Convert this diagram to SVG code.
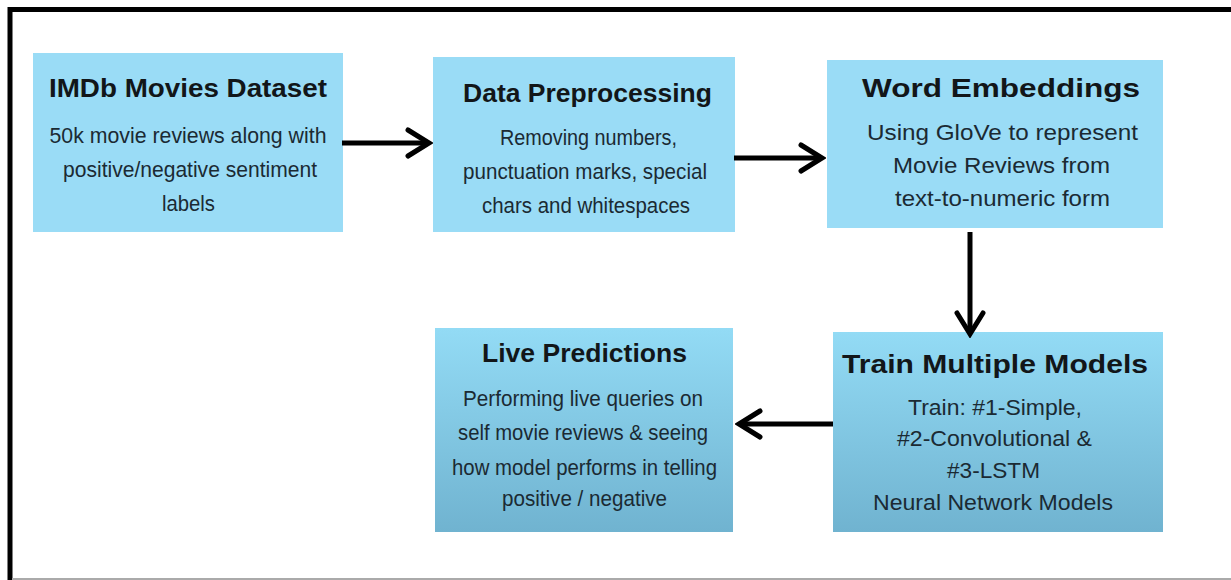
<svg xmlns="http://www.w3.org/2000/svg" width="1231" height="580" viewBox="0 0 1231 580">
<style>
.box{fill:#9adcf6;}
.boxg{fill:url(#grad);}
.title{font-family:"Liberation Sans",Arial,sans-serif;font-weight:bold;font-size:26px;fill:#121619;text-anchor:middle;}
.body{font-family:"Liberation Sans",Arial,sans-serif;font-size:22px;fill:#1b2a33;text-anchor:middle;}
.conn{stroke:#000;stroke-width:5;fill:none;}
</style>
<defs>
<linearGradient id="grad" x1="0" y1="0" x2="0" y2="1">
<stop offset="0" stop-color="#93dbf5"/>
<stop offset="1" stop-color="#70b3d0"/>
</linearGradient>
<marker id="head" viewBox="-26 -16 30 32" markerWidth="30" markerHeight="32" refX="0" refY="0" orient="auto" markerUnits="userSpaceOnUse">
<path d="M-21,-13 L0,0 L-21,13" fill="none" stroke="#000" stroke-width="5" stroke-linecap="round" stroke-linejoin="miter"/>
</marker>
</defs>
<rect x="0" y="0" width="1231" height="580" fill="#fff"/>
<line x1="10" y1="9.5" x2="1231" y2="9.5" stroke="#000" stroke-width="5"/>
<line x1="10" y1="7" x2="10" y2="580" stroke="#000" stroke-width="5"/>
<line x1="12" y1="579" x2="1231" y2="579" stroke="#aaa" stroke-width="2"/>

<g id="node-imdb">
<rect class="box" x="33" y="53" width="310" height="179"/>
<text class="title" x="188" y="97" textLength="278" lengthAdjust="spacingAndGlyphs">IMDb Movies Dataset</text>
<text class="body" x="188" y="143" textLength="277" lengthAdjust="spacingAndGlyphs">50k movie reviews along with</text>
<text class="body" x="190" y="177" textLength="254" lengthAdjust="spacingAndGlyphs">positive/negative sentiment</text>
<text class="body" x="188.5" y="211" textLength="53" lengthAdjust="spacingAndGlyphs">labels</text>
</g>

<g id="node-preprocessing">
<rect class="box" x="433" y="57" width="302" height="175"/>
<text class="title" x="587.5" y="102" textLength="249" lengthAdjust="spacingAndGlyphs">Data Preprocessing</text>
<text class="body" x="588.5" y="145" textLength="177" lengthAdjust="spacingAndGlyphs">Removing numbers,</text>
<text class="body" x="585" y="179" textLength="244" lengthAdjust="spacingAndGlyphs">punctuation marks, special</text>
<text class="body" x="586" y="213" textLength="208" lengthAdjust="spacingAndGlyphs">chars and whitespaces</text>
</g>

<g id="node-embeddings">
<rect class="box" x="827" y="60" width="336" height="168"/>
<text class="title" x="1001" y="97" textLength="278" lengthAdjust="spacingAndGlyphs">Word Embeddings</text>
<text class="body" x="1002.5" y="140" textLength="271" lengthAdjust="spacingAndGlyphs">Using GloVe to represent</text>
<text class="body" x="1001.5" y="173" textLength="217" lengthAdjust="spacingAndGlyphs">Movie Reviews from</text>
<text class="body" x="1002.5" y="206" textLength="215" lengthAdjust="spacingAndGlyphs">text-to-numeric form</text>
</g>

<g id="node-train">
<rect class="boxg" x="833" y="332" width="330" height="200"/>
<text class="title" x="995" y="373" textLength="306" lengthAdjust="spacingAndGlyphs">Train Multiple Models</text>
<text class="body" x="995" y="415" textLength="174" lengthAdjust="spacingAndGlyphs">Train: #1-Simple,</text>
<text class="body" x="994.5" y="446" textLength="195" lengthAdjust="spacingAndGlyphs">#2-Convolutional &amp;</text>
<text class="body" x="993.5" y="478" textLength="93" lengthAdjust="spacingAndGlyphs">#3-LSTM</text>
<text class="body" x="993" y="510" textLength="240" lengthAdjust="spacingAndGlyphs">Neural Network Models</text>
</g>

<g id="node-live">
<rect class="boxg" x="435" y="328" width="298" height="204"/>
<text class="title" x="584.5" y="362" textLength="205" lengthAdjust="spacingAndGlyphs">Live Predictions</text>
<text class="body" x="583" y="406" textLength="240" lengthAdjust="spacingAndGlyphs">Performing live queries on</text>
<text class="body" x="583" y="440" textLength="250" lengthAdjust="spacingAndGlyphs">self movie reviews &amp; seeing</text>
<text class="body" x="584.5" y="475" textLength="265" lengthAdjust="spacingAndGlyphs">how model performs in telling</text>
<text class="body" x="584.5" y="506" textLength="165" lengthAdjust="spacingAndGlyphs">positive / negative</text>
</g>

<g id="connectors">
<line class="conn" x1="342" y1="143" x2="429" y2="143" marker-end="url(#head)"/>
<line class="conn" x1="734" y1="158" x2="822" y2="158" marker-end="url(#head)"/>
<line class="conn" x1="970" y1="232" x2="970" y2="334" marker-end="url(#head)"/>
<line class="conn" x1="833" y1="424" x2="739" y2="424" marker-end="url(#head)"/>
</g>
</svg>
